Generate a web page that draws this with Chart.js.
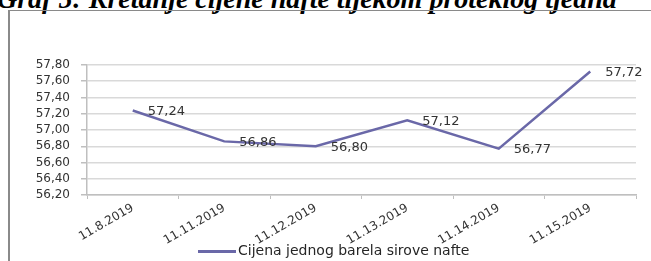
<!DOCTYPE html>
<html>
<head>
<meta charset="utf-8">
<script src="https://cdn.jsdelivr.net/npm/chart.js@4"></script>
<style>
    html, body { margin: 0; padding: 0; background: #fff; overflow: hidden; }
    #wrap { position: relative; width: 651px; height: 261px; }
    #title {
        position: absolute; left: -3px; top: -15px; white-space: nowrap;
        font: italic bold 28px "Liberation Serif", serif; line-height: 28px; color: #000;
    }
    #frame {
        position: absolute; left: 8px; top: 10px; width: 700px; height: 300px;
        border-left: 2px solid #8a8a8a; border-top: 1.5px solid #8a8a8a;
    }
    canvas { position: absolute; left: 0; top: 0; }
    #legend {
        position: absolute; left: 198px; top: 242px; white-space: nowrap;
        font: 14px "DejaVu Sans", sans-serif; color: #262626;
    }
    #legend span.swatch {
        display: inline-block; width: 38px; height: 3px; background: #6a68a8;
        vertical-align: middle; margin-right: 2px;
    }
</style>
</head>
<body>
<div id="wrap">
    <div id="title">Graf 5: Kretanje cijene nafte tijekom proteklog tjedna</div>
    <div id="frame"></div>
    <canvas id="oilChart" width="651" height="261"></canvas>
    <div id="legend"></div>
</div>
<script>
// Chart data
const dates = ['11.8.2019', '11.11.2019', '11.12.2019', '11.13.2019', '11.14.2019', '11.15.2019'];
const prices = [57.24, 56.86, 56.80, 57.12, 56.77, 57.72];
const yTicks = [56.20, 56.40, 56.60, 56.80, 57.00, 57.20, 57.40, 57.60, 57.80];
const seriesName = 'Cijena jednog barela sirove nafte';

const lineColor = '#6a68a8';
const textColor = '#333333';

function formatNum(v) {
    return v.toFixed(2).replace('.', ',');
}

document.getElementById('legend').innerHTML =
    '<span class="swatch"></span>' + seriesName;

// draws value labels to the right of each point
const pointLabels = {
    id: 'pointLabels',
    afterDatasetsDraw(chart) {
        const ctx = chart.ctx;
        const meta = chart.getDatasetMeta(0);
        ctx.save();
        ctx.font = '13px "DejaVu Sans", sans-serif';
        ctx.fillStyle = textColor;
        ctx.textAlign = 'left';
        ctx.textBaseline = 'middle';
        meta.data.forEach((pt, i) => {
            ctx.fillText(formatNum(prices[i]), pt.x + 15, pt.y + 1);
        });
        ctx.restore();
    }
};

new Chart(document.getElementById('oilChart').getContext('2d'), {
    type: 'line',
    data: {
        labels: dates,
        datasets: [{
            label: seriesName,
            data: prices,
            borderColor: lineColor,
            backgroundColor: lineColor,
            borderWidth: 2.5,
            pointRadius: 0,
            tension: 0
        }]
    },
    options: {
        responsive: false,
        animation: false,
        layout: {
            padding: { left: 0, top: 65, right: 15, bottom: 0 }
        },
        plugins: {
            legend: { display: false },
            tooltip: { enabled: false }
        },
        scales: {
            x: {
                offset: true,
                afterFit: function (scale) { scale.height = 66; },
                grid: {
                    offset: true,
                    drawOnChartArea: false,
                    drawTicks: true,
                    tickLength: 4,
                    color: '#bfbfbf'
                },
                border: { color: '#bfbfbf', width: 1.5 },
                ticks: {
                    color: textColor,
                    font: { family: 'DejaVu Sans', size: 12 },
                    minRotation: 30,
                    maxRotation: 30,
                    padding: 2,
                    autoSkip: false
                }
            },
            y: {
                min: 56.2,
                max: 57.8,
                afterFit: function (scale) { scale.width = 87; },
                afterBuildTicks: function (scale) {
                    scale.ticks = yTicks.map(v => ({ value: v }));
                },
                grid: {
                    color: '#d9d9d9',
                    lineWidth: 1.5,
                    tickLength: 6,
                    tickColor: '#bfbfbf'
                },
                border: { color: '#bfbfbf', width: 1.5 },
                ticks: {
                    color: textColor,
                    font: { family: 'DejaVu Sans', size: 12 },
                    padding: 11,
                    autoSkip: false,
                    callback: function (value) {
                        return formatNum(value);
                    }
                }
            }
        }
    },
    plugins: [pointLabels]
});
</script>
</body>
</html>
